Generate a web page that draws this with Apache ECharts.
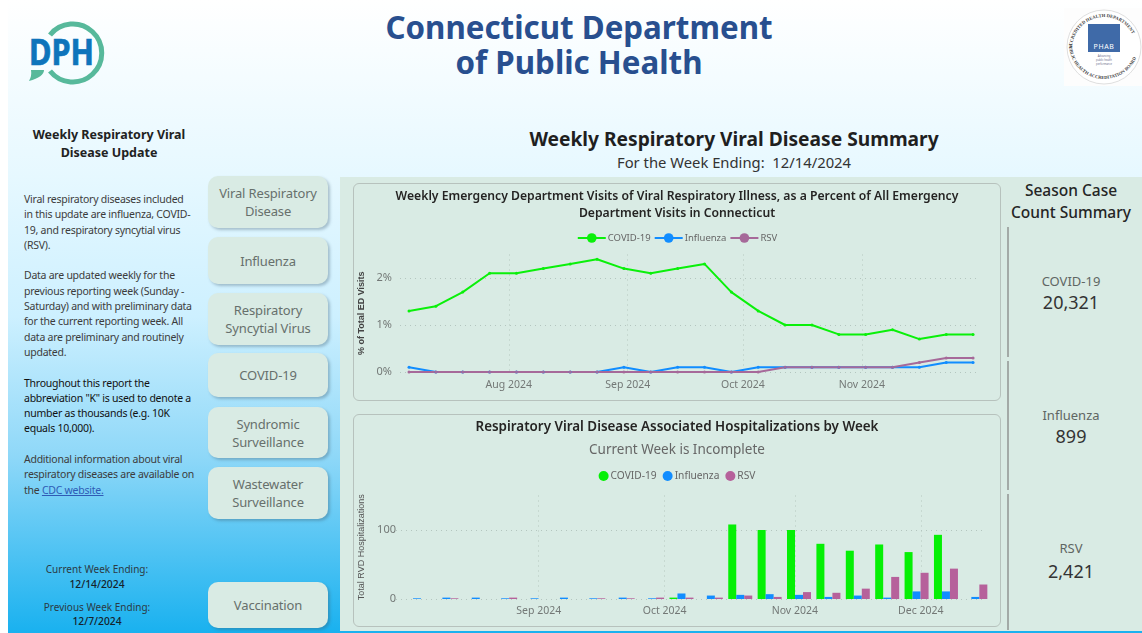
<!DOCTYPE html>
<html lang="en">
<head>
  <meta charset="UTF-8">
  <title>Weekly Respiratory Viral Disease Summary</title>
  <script src="https://cdn.jsdelivr.net/npm/echarts@6/dist/echarts.min.js"></script>
  <style>
    html, body { margin: 0; padding: 0; background: #fff; }
    body { width: 1142px; height: 633px; overflow: hidden; position: relative; font-family: "Noto Sans", sans-serif; }
    .abs { position: absolute; }
    #bg { left: 8px; top: 0; width: 1134px; height: 633px; background: linear-gradient(#ffffff 0%, #e6f8ff 28%, #cdf0ff 50%, #8fd8f8 72%, #19b1ef 100%); }
    #panel { left: 340px; top: 177px; width: 802px; height: 454px; background: #d9ebe4; }
    .card { background: #d9ebe4; border: 1px solid #b7c2bd; border-radius: 6px; box-sizing: border-box; }
    .btn { left: 208px; width: 120px; background: #d9ebe4; border-radius: 10px; box-shadow: 2px 2px 3px rgba(60,90,110,.35);
           color: #67706c; font-size: 13px; letter-spacing: -0.15px; line-height: 18px; text-align: center; display: flex; align-items: center; justify-content: center; }
    .center { text-align: center; transform: translateX(-50%); white-space: nowrap; }
    .vline { left: 1007px; width: 2px; background: #a3aaa7; }
    #intro { left: 24px; top: 192px; font-size: 10.5px; letter-spacing: -0.25px; line-height: 15.3px; color: #3c3c3c; white-space: nowrap; }
    #intro a { color: #2f5bb5; }
  </style>
</head>
<body>
  <div id="bg" class="abs"></div>
  <div id="panel" class="abs"></div>

  <!-- DPH logo -->
  <svg class="abs" style="left:25px;top:20px" width="90" height="68" viewBox="25 20 90 68">
    <path d="M 50 35 A 29 29 0 1 1 50 71" fill="none" stroke="#57b99b" stroke-width="5"/>
    <path d="M 31 70 L 44 70 Q 44 77 29 81 Q 32 76 31 70 Z" fill="#57b99b"/>
    <text x="29" y="65" font-family="Noto Sans" font-weight="700" font-size="35" stroke="#0e74bb" stroke-width="0.7" fill="#0e74bb" textLength="65" lengthAdjust="spacingAndGlyphs">DPH</text>
  </svg>

  <!-- PHAB seal -->
  <svg class="abs" style="left:1064px;top:8px" width="78" height="78" viewBox="0 0 78 78">
    <rect width="78" height="78" fill="#fdfdfd"/>
    <circle cx="40" cy="39" r="37" fill="#fff" stroke="#c9c9c9" stroke-width="0.6"/>
    <defs>
      <path id="sealTop" d="M 8 41 A 32 32 0 0 1 72 41"/>
      <path id="sealBot" d="M 5 36 A 35 35 0 0 0 75 36"/>
    </defs>
    <text font-family="Liberation Serif" font-size="4.6" font-weight="700" fill="#444"><textPath href="#sealTop">ACCREDITED HEALTH DEPARTMENT</textPath></text>
    <text font-family="Liberation Serif" font-size="4.6" font-weight="700" fill="#444"><textPath href="#sealBot">PUBLIC HEALTH ACCREDITATION BOARD</textPath></text>
    <rect x="24" y="16" width="32" height="28" fill="#3f6aa8"/>
    <text x="40" y="41" text-anchor="middle" font-family="Noto Sans" font-size="7" letter-spacing="0.6" fill="#fff">PHAB</text>
    <text x="40" y="49" text-anchor="middle" font-family="Noto Sans" font-size="2.6" fill="#6a6a8a">Advancing</text>
    <text x="40" y="53" text-anchor="middle" font-family="Noto Sans" font-size="2.6" fill="#6a6a8a">public health</text>
    <text x="40" y="57" text-anchor="middle" font-family="Noto Sans" font-size="2.6" fill="#6a6a8a">performance</text>
  </svg>

  <div class="abs center" style="left:579px;top:10px;font-size:31.3px;line-height:35px;font-weight:700;color:#284f8f">Connecticut Department<br>of Public Health</div>

  <div class="abs center" style="left:109px;top:126px;font-size:12.5px;line-height:18px;font-weight:700;color:#222">Weekly Respiratory Viral<br>Disease Update</div>

  <div id="intro" class="abs">Viral respiratory diseases included<br>in this update are influenza, COVID-<br>19, and respiratory syncytial virus<br>(RSV).<br><br>Data are updated weekly for the<br>previous reporting week (Sunday -<br>Saturday) and with preliminary data<br>for the current reporting week.  All<br>data are preliminary and routinely<br>updated.<br><br><span style="color:#111">Throughout this report the<br>abbreviation "K" is used to denote a<br>number as thousands (e.g. 10K<br>equals 10,000).</span><br><br>Additional information about viral<br>respiratory diseases are available on<br>the <a href="#">CDC website.</a></div>

  <div class="btn abs" style="top:176px;height:52px">Viral Respiratory<br>Disease</div>
  <div class="btn abs" style="top:237px;height:47px">Influenza</div>
  <div class="btn abs" style="top:293px;height:52px">Respiratory<br>Syncytial Virus</div>
  <div class="btn abs" style="top:353px;height:44px">COVID-19</div>
  <div class="btn abs" style="top:407px;height:51px">Syndromic<br>Surveillance</div>
  <div class="btn abs" style="top:467px;height:52px">Wastewater<br>Surveillance</div>
  <div class="btn abs" style="top:582px;height:46px">Vaccination</div>

  <div class="abs center" style="left:97px;top:562px;font-size:10px;line-height:15px;color:#2b3a44">Current Week Ending:<br><span style="color:#16222b;font-weight:500;font-size:10.3px">12/14/2024</span></div>
  <div class="abs center" style="left:97px;top:600px;font-size:10px;line-height:14px;color:#2b3a44">Previous Week Ending:<br><span style="color:#16222b;font-weight:500;font-size:10.3px">12/7/2024</span></div>

  <div class="abs center" style="left:734px;top:125px;font-size:19.2px;line-height:28px;font-weight:700;color:#1f1f1f">Weekly Respiratory Viral Disease Summary</div>
  <div class="abs center" style="left:734px;top:152px;font-size:14.8px;line-height:20px;color:#333">For the Week Ending:&nbsp; 12/14/2024</div>

  <div id="edChart" class="card abs" style="left:353px;top:183px;width:648px;height:218px"></div>
  <div id="hospChart" class="card abs" style="left:353px;top:414px;width:648px;height:213px"></div>

  <div class="abs center" style="left:1071px;top:179px;font-size:15.5px;line-height:22px;font-weight:500;color:#252525">Season Case<br>Count Summary</div>
  <div class="vline abs" style="top:227px;height:130px"></div>
  <div class="vline abs" style="top:361px;height:129px"></div>
  <div class="vline abs" style="top:494px;height:136px"></div>

  <div class="abs center" style="left:1071px;top:272px;font-size:13px;line-height:18px;color:#5f6663">COVID-19</div>
  <div class="abs center" style="left:1071px;top:290px;font-size:18px;line-height:24px;color:#333">20,321</div>
  <div class="abs center" style="left:1071px;top:406px;font-size:13px;line-height:18px;color:#5f6663">Influenza</div>
  <div class="abs center" style="left:1071px;top:424px;font-size:18px;line-height:24px;color:#333">899</div>
  <div class="abs center" style="left:1071px;top:539px;font-size:13px;line-height:18px;color:#5f6663">RSV</div>
  <div class="abs center" style="left:1071px;top:559px;font-size:18px;line-height:24px;color:#333">2,421</div>

  <script>
    // ED visits, % of all ED visits, week ending
    const edWeeks = ['2024-07-06','2024-07-13','2024-07-20','2024-07-27','2024-08-03','2024-08-10','2024-08-17','2024-08-24','2024-08-31','2024-09-07','2024-09-14','2024-09-21','2024-09-28','2024-10-05','2024-10-12','2024-10-19','2024-10-26','2024-11-02','2024-11-09','2024-11-16','2024-11-23','2024-11-30'];
    const edCovid = [1.3,1.4,1.7,2.1,2.1,2.2,2.3,2.4,2.2,2.1,2.2,2.3,1.7,1.3,1.0,1.0,0.8,0.8,0.9,0.7,0.8,0.8];
    const edFlu = [0.1,0,0,0,0,0,0,0,0.1,0,0.1,0.1,0,0.1,0.1,0.1,0.1,0.1,0.1,0.1,0.2,0.2];
    const edRsv = [0,0,0,0,0,0,0,0,0,0,0,0,0,0,0.1,0.1,0.1,0.1,0.1,0.2,0.3,0.3];
    const edTickDates = ['2024-08-01','2024-09-01','2024-10-01','2024-11-01'];
    const edTickLabels = ['Aug 2024','Sep 2024','Oct 2024','Nov 2024'];

    // hospitalizations by week
    const hospWeeks = ['2024-08-03','2024-08-10','2024-08-17','2024-08-24','2024-08-31','2024-09-07','2024-09-14','2024-09-21','2024-09-28','2024-10-05','2024-10-12','2024-10-19','2024-10-26','2024-11-02','2024-11-09','2024-11-16','2024-11-23','2024-11-30','2024-12-07','2024-12-14'];
    const hospCovid = [0,0,0,0,0,0,0,0,0,2,0,108,100,100,80,70,79,68,93,0];
    const hospFlu = [1,2,2,1,1,2,1,2,1,8,5,6,7,6,3,5,2,11,11,3];
    const hospRsv = [0,1,0,2,0,0,1,1,2,2,2,5,3,10,9,15,32,38,44,21];
    const hospTickDates = ['2024-09-01','2024-10-01','2024-11-01','2024-12-01'];
    const hospTickLabels = ['Sep 2024','Oct 2024','Nov 2024','Dec 2024'];

    const COVID_COLOR = '#0af00a';
    const FLU_COLOR = '#118dff';
    const RSV_LINE = '#a66999';
    const RSV_BAR = '#b6619b';
    const FONT = '"Noto Sans", sans-serif';
    const DAY = 86400000;

    const ts = s => +new Date(s + 'T00:00:00');
    const pairs = (weeks, vals) => weeks.map((w, i) => [ts(w), vals[i]]);
    const dotted = { show: true, lineStyle: { type: [1, 4], color: '#b4c6bf', width: 1 } };

    // dates as a plain value axis, the month ticks come from customValues
    function dateAxis(tickDates, tickLabels, min, max, margin) {
      const ticks = tickDates.map(ts);
      return {
        type: 'value', min: min, max: max, scale: true,
        axisLine: { show: false },
        axisTick: { show: false, customValues: ticks },
        splitLine: Object.assign({ customValues: ticks }, dotted),
        axisLabel: {
          customValues: ticks, color: '#737876', fontSize: 10.5, fontFamily: FONT, margin: margin,
          formatter: v => tickLabels[ticks.indexOf(v)]
        }
      };
    }

    const edChart = echarts.init(document.getElementById('edChart'));
    edChart.setOption({
      animation: false,
      title: {
        text: 'Weekly Emergency Department Visits of Viral Respiratory Illness, as a Percent of All Emergency\nDepartment Visits in Connecticut',
        left: 'center', top: -1,
        textStyle: { fontFamily: FONT, fontSize: 12.2, fontWeight: 600, color: '#252423', lineHeight: 17 }
      },
      legend: {
        top: 44, left: 'center', itemWidth: 28, itemHeight: 12, itemGap: 3,
        textStyle: { fontFamily: FONT, fontSize: 9.5, color: '#666', padding: [0, 0, 0, -3] },
        data: ['COVID-19', 'Influenza', 'RSV']
      },
      grid: { left: 46, right: 20, top: 70.5, bottom: 28, outerBoundsMode: 'none' },
      xAxis: dateAxis(edTickDates, edTickLabels, ts(edWeeks[0]) - 2.35 * DAY, ts(edWeeks[edWeeks.length - 1]) + 1.8 * DAY, 8),
      yAxis: {
        type: 'value', min: 0, max: 2.5, interval: 1,
        name: '% of Total ED Visits', nameLocation: 'middle', nameGap: 29,
        nameTextStyle: { fontFamily: '"Liberation Sans", sans-serif', fontSize: 9, fontWeight: 700, color: '#444' },
        axisLine: { show: false }, axisTick: { show: false },
        splitLine: Object.assign({ showMaxLine: false }, dotted),
        axisLabel: { showMaxLabel: false, color: '#737876', fontSize: 11, fontFamily: FONT, margin: 8, formatter: '{value}%' }
      },
      series: [
        { name: 'COVID-19', type: 'line', data: pairs(edWeeks, edCovid), color: COVID_COLOR, symbol: 'circle', symbolSize: 3, lineStyle: { width: 2 } },
        { name: 'Influenza', type: 'line', data: pairs(edWeeks, edFlu), color: FLU_COLOR, symbol: 'circle', symbolSize: 3, lineStyle: { width: 2 } },
        { name: 'RSV', type: 'line', data: pairs(edWeeks, edRsv), color: RSV_LINE, symbol: 'circle', symbolSize: 3, lineStyle: { width: 2 } }
      ]
    });

    const hospChart = echarts.init(document.getElementById('hospChart'));
    hospChart.setOption({
      animation: false,
      title: {
        text: 'Respiratory Viral Disease Associated Hospitalizations by Week',
        subtext: 'Current Week is Incomplete',
        left: 'center', top: 1, itemGap: 9,
        textStyle: { fontFamily: FONT, fontSize: 13.4, fontWeight: 600, color: '#252423' },
        subtextStyle: { fontFamily: FONT, fontSize: 13.5, color: '#666' }
      },
      legend: {
        top: 51, left: 'center', icon: 'circle', itemWidth: 10, itemHeight: 10, itemGap: 6,
        textStyle: { fontFamily: FONT, fontSize: 10.2, color: '#666', padding: [0, 0, 0, -3] },
        data: ['COVID-19', 'Influenza', 'RSV']
      },
      grid: { left: 42, right: 15, top: 80.5, bottom: 27, outerBoundsMode: 'none' },
      xAxis: dateAxis(hospTickDates, hospTickLabels, ts(hospWeeks[0]) - 5 * DAY, ts(hospWeeks[hospWeeks.length - 1]) + 2.3 * DAY, 7),
      yAxis: {
        type: 'value', min: 0, max: 150, interval: 100,
        name: 'Total RVD Hospitalizations', nameLocation: 'middle', nameGap: 26,
        nameTextStyle: { fontFamily: '"Liberation Sans", sans-serif', fontSize: 9, color: '#555' },
        axisLine: { show: false }, axisTick: { show: false },
        splitLine: Object.assign({ showMaxLine: false }, dotted),
        axisLabel: { showMaxLabel: false, color: '#737876', fontSize: 11, fontFamily: FONT, margin: 0 }
      },
      series: [
        { name: 'COVID-19', type: 'bar', data: pairs(hospWeeks, hospCovid), color: '#05f005', barWidth: 8, barGap: '0%' },
        { name: 'Influenza', type: 'bar', data: pairs(hospWeeks, hospFlu), color: FLU_COLOR, barWidth: 8, barGap: '0%' },
        { name: 'RSV', type: 'bar', data: pairs(hospWeeks, hospRsv), color: RSV_BAR, barWidth: 8, barGap: '0%' }
      ]
    });
  </script>
</body>
</html>
